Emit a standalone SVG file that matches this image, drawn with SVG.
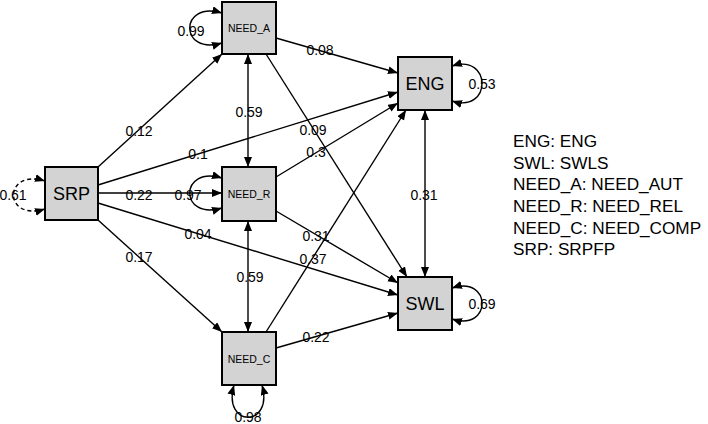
<svg xmlns="http://www.w3.org/2000/svg" width="708" height="424" viewBox="0 0 708 424">
<style>
.box{fill:#d3d3d3;stroke:#000;stroke-width:2}
.big{font-family:"Liberation Sans",Arial,sans-serif;font-size:18px;text-anchor:middle;dominant-baseline:central;fill:#000}
.small{font-family:"Liberation Sans",Arial,sans-serif;font-size:10.5px;text-anchor:middle;dominant-baseline:central;fill:#000}
.e{stroke:#000;stroke-width:1.4;fill:none;marker-end:url(#ah)}
.d{stroke:#000;stroke-width:1.4;fill:none;marker-start:url(#ah);marker-end:url(#ah)}
.dash{stroke-dasharray:4 3}
.lbl{font-family:"Liberation Sans",Arial,sans-serif;font-size:14px;text-anchor:middle;dominant-baseline:central;fill:#000}
.leg{font-family:"Liberation Sans",Arial,sans-serif;font-size:17.2px;fill:#000}
</style>
<defs>
<marker id="ah" markerUnits="userSpaceOnUse" markerWidth="11" markerHeight="9" refX="10" refY="4" orient="auto-start-reverse">
<path d="M0,0 L10,4 L0,8 z" fill="#000"/>
</marker>
</defs>
<g id="connectors">
<line class="e" x1="98" y1="167" x2="222" y2="54"/>
<line class="e" x1="98" y1="185" x2="398" y2="92"/>
<line class="e" x1="98" y1="193" x2="222" y2="193"/>
<line class="e" x1="98" y1="203" x2="398" y2="295"/>
<line class="e" x1="98" y1="220" x2="222" y2="332"/>
<line class="e" x1="276" y1="38" x2="398" y2="73"/>
<line class="e" x1="266" y1="54" x2="407" y2="277"/>
<line class="d" x1="248" y1="54" x2="248" y2="167"/>
<line class="e" x1="276" y1="177" x2="398" y2="103"/>
<line class="e" x1="276" y1="211" x2="398" y2="283"/>
<line class="e" x1="266" y1="332" x2="406" y2="110"/>
<line class="e" x1="276" y1="348" x2="398" y2="313"/>
<line class="d" x1="425" y1="110" x2="425" y2="277"/>
<line class="d" x1="248" y1="221" x2="248" y2="332"/>
<path class="d dash" d="M45 181 C 3 168, 3 222, 45 209"/>
<path class="d" d="M222 13 C 179 0, 179 56, 222 43"/>
<path class="d" d="M222 178 C 179 165, 179 221, 222 208"/>
<path class="d" d="M234 385 C 222 428, 274 428, 262 385"/>
<path class="d" d="M452 66 C 492 53, 492 114, 452 101"/>
<path class="d" d="M452 288 C 492 275, 492 332, 452 319"/>
<text class="lbl" x="139" y="131">0.12</text>
<text class="lbl" x="198" y="154">0.1</text>
<text class="lbl" x="139" y="195">0.22</text>
<text class="lbl" x="198" y="234">0.04</text>
<text class="lbl" x="139" y="257">0.17</text>
<text class="lbl" x="320" y="50">0.08</text>
<text class="lbl" x="313" y="130">0.09</text>
<text class="lbl" x="249" y="112">0.59</text>
<text class="lbl" x="316" y="152">0.3</text>
<text class="lbl" x="316" y="236">0.31</text>
<text class="lbl" x="313" y="259">0.37</text>
<text class="lbl" x="316" y="337">0.22</text>
<text class="lbl" x="424" y="195">0.31</text>
<text class="lbl" x="250" y="277">0.59</text>
<text class="lbl" x="13" y="195">0.61</text>
<text class="lbl" x="191" y="31">0.99</text>
<text class="lbl" x="188" y="195">0.97</text>
<text class="lbl" x="248" y="417">0.98</text>
<text class="lbl" x="482" y="84">0.53</text>
<text class="lbl" x="482" y="304">0.69</text>
</g>
<g id="SRP"><rect class="box" x="45" y="167" width="53" height="53"/><text class="big" x="71.5" y="194">SRP</text></g>
<g id="NEED_A"><rect class="box" x="222" y="2" width="54" height="52"/><text class="small" x="249" y="28">NEED_A</text></g>
<g id="NEED_R"><rect class="box" x="222" y="167" width="54" height="54"/><text class="small" x="249" y="194">NEED_R</text></g>
<g id="NEED_C"><rect class="box" x="222" y="332" width="54" height="53"/><text class="small" x="249" y="359">NEED_C</text></g>
<g id="ENG"><rect class="box" x="398" y="57" width="54" height="53"/><text class="big" x="425" y="84">ENG</text></g>
<g id="SWL"><rect class="box" x="398" y="277" width="54" height="53"/><text class="big" x="425" y="304">SWL</text></g>
<g id="legend">
<text class="leg" x="513" y="147">ENG: ENG</text>
<text class="leg" x="513" y="168.7">SWL: SWLS</text>
<text class="leg" x="513" y="190.3">NEED_A: NEED_AUT</text>
<text class="leg" x="513" y="212">NEED_R: NEED_REL</text>
<text class="leg" x="513" y="233.7">NEED_C: NEED_COMP</text>
<text class="leg" x="513" y="255.3">SRP: SRPFP</text>
</g>
</svg>
